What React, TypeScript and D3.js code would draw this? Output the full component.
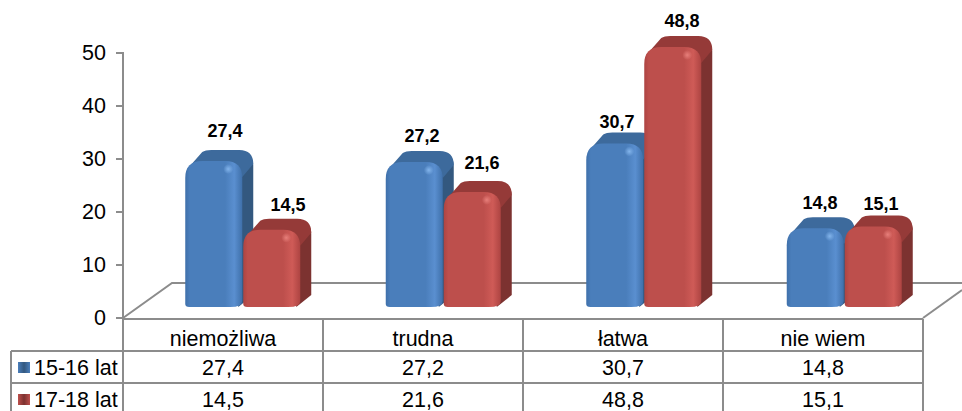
import React from "react";
import * as d3 from "d3";

const categories = ["niemożliwa", "trudna", "łatwa", "nie wiem"];
const seriesNames = ["15-16 lat", "17-18 lat"];
const values1516 = [27.4, 27.2, 30.7, 14.8];
const values1718 = [14.5, 21.6, 48.8, 15.1];
const yTicks = [0, 10, 20, 30, 40, 50];

const labelNudgeX = [[2, -1, -6, -3], [65, 59, 59, 58]];
const labelGap = [[24, 20, 15.5, 19], [19, 23, 20, 16.6]];

const fmt = (v: number) => v.toFixed(1).replace(".", ",");
const FONT = "'Liberation Sans', Arial, sans-serif";
const GRID = "#8c8c8c";

const palette = [
  { id: "b", front: "#4a7ebb", light: "#5a8fd0", edge: "#3f70aa", top: "#3d6a9c", side: "#33587f", spot: "#8fc0f5" },
  { id: "r", front: "#bd4f4c", light: "#cf5b57", edge: "#ad4442", top: "#953a38", side: "#7c3230", spot: "#f08a85" },
];

const x = d3.scaleBand<string>().domain(categories).range([123, 923]);
const xBars = d3.scaleBand<string>().domain(categories).range([123, 925]);
const y = d3.scaleLinear().domain([0, 50]).range([318, 53]);
const BAR_W = 57;
const DX = 11;
const DY = 11;
const FLOOR = 307;
const barTop = (v: number) => FLOOR - (y(0) - y(v)) * 1.005;

function Bar({ cat, s, v }: { cat: string; s: number; v: number }) {
  const c = palette[s];
  const cx = xBars(cat)! + xBars.bandwidth() / 2;
  const x0 = cx - 38 + s * (BAR_W + 1);
  const x1 = x0 + BAR_W;
  const yt = barTop(v);
  const r = 17;
  const front = `M${x0},${FLOOR - 3} L${x0},${yt + r} Q${x0},${yt} ${x0 + r},${yt} L${x1 - r},${yt} Q${x1},${yt} ${x1},${yt + r} L${x1},${FLOOR - 6} Q${x1},${FLOOR} ${x1 - 12},${FLOOR} L${x0 + 4},${FLOOR} Q${x0},${FLOOR} ${x0},${FLOOR - 3} Z`;
  const top = `M${x0 + 2},${yt + 8} L${x0 + 17},${yt - DY + 2} Q${x0 + 20},${yt - DY} ${x0 + 26},${yt - DY} L${x1 + DX - 14},${yt - DY} Q${x1 + DX},${yt - DY} ${x1 + DX},${yt - DY + 14} L${x1},${yt + 16} L${x1 - 6},${yt + 4} L${x0 + 12},${yt + 6} Z`;
  const side = `M${x1 - 8},${yt + 1} L${x1 + DX - 14},${yt - DY + 3} Q${x1 + DX},${yt - DY + 3} ${x1 + DX},${yt - DY + 15} L${x1 + DX},${FLOOR - DY - 1} L${x1 - 4},${FLOOR} Z`;
  return (
    <g>
      <path d={side} fill={c.side} />
      <path d={top} fill={c.top} />
      <path d={front} fill={`url(#body-${c.id})`} />
      <ellipse cx={x1 - 14} cy={yt + 8} rx={5} ry={5} fill={`url(#spot-${c.id})`} />
    </g>
  );
}

export default function App() {
  const columnEdges = [123, ...categories.map((cat) => x(cat)! + x.bandwidth())];
  const rows = [values1516, values1718];
  const rowY = [351, 383];
  return (
    <svg width={962} height={411} style={{ position: "absolute", left: 0, top: 0, display: "block", background: "#fff" }} fontFamily={FONT}>
      <defs>
        {palette.map((c) => (
          <React.Fragment key={c.id}>
            <linearGradient id={`body-${c.id}`} x1="0" x2="1" y1="0" y2="0">
              <stop offset="0" stopColor={c.edge} />
              <stop offset="0.08" stopColor={c.front} />
              <stop offset="0.7" stopColor={c.front} />
              <stop offset="0.86" stopColor={c.light} />
              <stop offset="1" stopColor={c.edge} />
            </linearGradient>
            <radialGradient id={`spot-${c.id}`}>
              <stop offset="0" stopColor={c.spot} stopOpacity="0.8" />
              <stop offset="1" stopColor={c.spot} stopOpacity="0" />
            </radialGradient>
            <linearGradient id={`key-${c.id}`} x1="0" x2="1" y1="0" y2="0">
              <stop offset="0" stopColor={c.front} />
              <stop offset="0.5" stopColor={c.side} />
              <stop offset="1" stopColor={c.front} />
            </linearGradient>
          </React.Fragment>
        ))}
      </defs>

      <g stroke={GRID} strokeWidth={2} fill="none">
        <path d="M123,318 L172,283 L962,283" />
        <path d="M923,318 L962,290" />
      </g>

      <g stroke={GRID} strokeWidth={2}>
        <line x1={123} x2={123} y1={y(50) - 1} y2={351} />
        {yTicks.map((t) => (
          <line key={t} x1={116} x2={123} y1={y(t)} y2={y(t)} />
        ))}
      </g>
      <g fontSize={21.5} fill="#000" textAnchor="end">
        {yTicks.map((t) => (
          <text key={t} x={106} y={y(t) + 7}>{t}</text>
        ))}
      </g>

      {categories.map((cat, i) => (
        <g key={cat}>
          <Bar cat={cat} s={0} v={values1516[i]} />
          <Bar cat={cat} s={1} v={values1718[i]} />
        </g>
      ))}

      <g fontSize={18} fontWeight="bold" fill="#000" textAnchor="middle">
        {categories.map((cat, i) => {
          const cx = x(cat)! + x.bandwidth() / 2;
          return (
            <g key={cat}>
              <text x={cx + labelNudgeX[0][i]} y={barTop(values1516[i]) - labelGap[0][i]}>{fmt(values1516[i])}</text>
              <text x={cx + labelNudgeX[1][i]} y={barTop(values1718[i]) - labelGap[1][i]}>{fmt(values1718[i])}</text>
            </g>
          );
        })}
      </g>

      <g stroke={GRID} strokeWidth={2} fill="none">
        <line x1={123} x2={923} y1={319} y2={319} />
        <line x1={11} x2={923} y1={rowY[0]} y2={rowY[0]} />
        <line x1={11} x2={923} y1={rowY[1]} y2={rowY[1]} />
        <line x1={11} x2={11} y1={rowY[0]} y2={411} />
        {columnEdges.map((e) => (
          <line key={e} x1={e} x2={e} y1={319} y2={411} />
        ))}
      </g>
      <g fontSize={21.5} fill="#000" textAnchor="middle">
        {categories.map((cat, i) => (
          <g key={cat}>
            <text x={x(cat)! + x.bandwidth() / 2} y={346}>{cat}</text>
            {rows.map((r, ri) => (
              <text key={ri} x={x(cat)! + x.bandwidth() / 2} y={rowY[ri] + 23.5}>{fmt(r[i])}</text>
            ))}
          </g>
        ))}
      </g>
      {seriesNames.map((n, ri) => (
        <g key={n}>
          <rect x={18} y={rowY[ri] + 11} width={12} height={11} fill={`url(#key-${palette[ri].id})`} />
          <text x={34} y={rowY[ri] + 23.5} fontSize={21.5} fill="#000">{n}</text>
        </g>
      ))}
    </svg>
  );
}
